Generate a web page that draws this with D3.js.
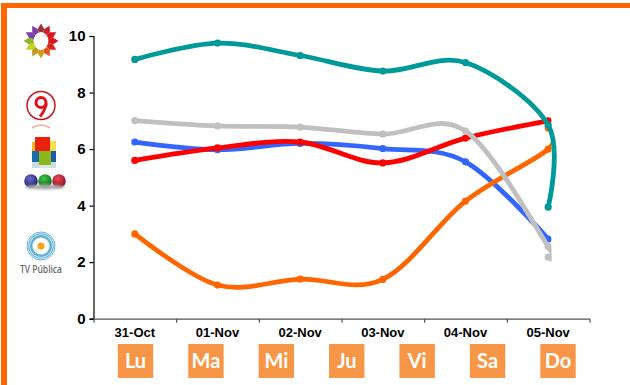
<!DOCTYPE html>
<html>
<head>
<meta charset="utf-8">
<style>
  html, body { margin: 0; padding: 0; background: #fff; }
  svg { display: block; }
  text { font-family: "Liberation Sans", Arial, sans-serif; }
</style>
</head>
<body>
<svg id="chart" width="630" height="385"></svg>
<script src="https://cdnjs.cloudflare.com/ajax/libs/d3/7.8.5/d3.min.js"></script>
<script>
// Daily audience by channel, one reading per day; some series close with a second reading on the last date.
const categories = ["31-Oct", "01-Nov", "02-Nov", "03-Nov", "04-Nov", "05-Nov"];
const readingDays = [...categories, "05-Nov"];
const days = ["Lu", "Ma", "Mi", "Ju", "Vi", "Sa", "Do"];
const yTicks = [0, 2, 4, 6, 8, 10];

const blueValues = [6.25, 5.98, 6.2, 6.02, 5.55, 2.82];
const orangeValues = [3.0, 1.19, 1.4, 1.39, 4.16, 6.0, 6.75];
const redValues = [5.6, 6.04, 6.25, 5.51, 6.39, 7.0];
const greyValues = [7.01, 6.82, 6.78, 6.53, 6.64, 2.55, 2.18];
const tealValues = [9.17, 9.75, 9.31, 8.76, 9.06, 6.85, 3.95];

const seriesList = [
  { values: blueValues, color: "#3366FF", clip: true },
  { values: orangeValues, color: "#FF6600", clip: true },
  { values: redValues, color: "#FF0000", clip: true },
  { values: greyValues, color: "#C0C0C0", clip: true },
  { values: tealValues, color: "#009999", clip: false }
];

const svg = d3.select("#chart");
const defs = svg.append("defs");

// Page frame: orange rules along the top and the left edge
svg.append("rect").attr("x", 1).attr("y", 3).attr("width", 629).attr("height", 5).attr("fill", "#FF6600");
svg.append("rect").attr("x", 1).attr("y", 3).attr("width", 6).attr("height", 382).attr("fill", "#FF6600");

const x = d3.scaleBand().domain(categories).range([93.5, 589.5]);
const xEdges = d3.scalePoint().domain(d3.range(categories.length + 1)).range([93.5, 589.5]);
const y = d3.scaleLinear().domain([0, 10]).range([318.7, 36]);
const cx = d => x(d) + x.bandwidth() / 2;

// Axes
const yAxis = svg.append("g").attr("transform", "translate(93.5,0)")
  .call(d3.axisLeft(y).tickValues(yTicks).tickSize(4).tickPadding(4).tickFormat(d3.format("d")));
yAxis.selectAll("path, line").attr("stroke", "#000").attr("stroke-width", 1.2);
yAxis.selectAll("text").attr("font-size", 15).attr("font-weight", "bold").attr("fill", "#000")
  .style("font-family", '"Liberation Sans", Arial, sans-serif');

const xTicks = svg.append("g").attr("transform", "translate(0,318.7)")
  .call(d3.axisBottom(xEdges).tickSizeInner(4).tickSizeOuter(0).tickFormat(""));
xTicks.selectAll("path, line").attr("stroke", "#555").attr("stroke-width", 1.2);

const xLabels = svg.append("g").attr("transform", "translate(0,318.7)")
  .call(d3.axisBottom(x).tickSize(0).tickPadding(9));
xLabels.select("path").remove();
xLabels.selectAll("text").attr("font-size", 13).attr("font-weight", "bold").attr("fill", "#000")
  .style("font-family", '"Liberation Sans", Arial, sans-serif');

// Smoothed series with their markers; all but the teal one stop at the last date's edge
defs.append("clipPath").attr("id", "lastDate").append("rect")
  .attr("x", 90).attr("y", 20).attr("width", 461.5).attr("height", 310);

const line = d3.line()
  .x((d, i) => cx(readingDays[i]))
  .y(d => y(d))
  .curve(d3.curveCardinal.tension(0));

seriesList.forEach(s => {
  const g = svg.append("g");
  if (s.clip) g.attr("clip-path", "url(#lastDate)");
  g.append("path").attr("d", line(s.values)).attr("fill", "none")
    .attr("stroke", s.color).attr("stroke-width", 4.8).attr("stroke-linecap", "round");
  g.selectAll("circle").data(s.values).join("circle")
    .attr("cx", (d, i) => cx(readingDays[i]))
    .attr("cy", d => y(d))
    .attr("r", 3.6)
    .attr("fill", s.color);
});

// Weekday tags under the date labels
const dayX = d3.scalePoint().domain(days).range([135.5, 558]);
const tags = svg.append("g").selectAll("g").data(days).join("g")
  .attr("transform", d => `translate(${dayX(d)},361)`);
tags.append("rect").attr("x", -17.7).attr("y", -17).attr("width", 35.4).attr("height", 34).attr("fill", "#F79646");
tags.append("text").text(d => d).attr("text-anchor", "middle").attr("dy", 7)
  .attr("font-size", 20).attr("font-weight", "bold").attr("fill", "#fff")
  .style("font-family", 'Lato, sans-serif');

// Channel logos down the left margin
defs.append("filter").attr("id", "soft").append("feGaussianBlur").attr("stdDeviation", 0.45);
defs.append("filter").attr("id", "softer").append("feGaussianBlur").attr("stdDeviation", 1.2);
const ballColors = [["#6a6ad0", "#1c1c60"], ["#45c44a", "#06661a"], ["#e84a58", "#8a0a20"]];
ballColors.forEach((c, i) => {
  const g = defs.append("radialGradient").attr("id", `ball${i}`).attr("cx", "42%").attr("cy", "32%").attr("r", "70%");
  g.append("stop").attr("offset", "0%").attr("stop-color", c[0]);
  g.append("stop").attr("offset", "100%").attr("stop-color", c[1]);
});

const logos = svg.append("g").attr("filter", "url(#soft)");

// Sun emblem: a ring of coloured wedges around a white centre
const sun = logos.append("g").attr("transform", "translate(41,41)");
const sunColors = ["#7B3FA8", "#A0303C", "#C8202C", "#D8141C", "#D8141C", "#D8281C", "#E8541C", "#D89A1C", "#B8A020", "#C8D020", "#8CB82C", "#7B3FA8"];
sunColors.forEach((c, i) => {
  const a0 = (i - 1.5) * Math.PI / 6;
  const a1 = a0 + Math.PI / 6;
  const mid = (a0 + a1) / 2;
  const pts = [
    [a0, 6], [a0, 12.5], [mid, 17.5], [a1, 12.5], [a1, 6]
  ].map(([a, r]) => [r * Math.sin(a), -r * Math.cos(a)]);
  sun.append("path").attr("d", d3.line()(pts) + "Z").attr("fill", c);
});
sun.append("ellipse").attr("rx", 7.4).attr("ry", 9).attr("fill", "#fff");

// Channel 9 emblem
const nine = logos.append("g").attr("transform", "translate(41,105.5)");
nine.append("circle").attr("r", 14).attr("fill", "none").attr("stroke", "#C8141C").attr("stroke-width", 1.5);
nine.append("circle").attr("cy", -3).attr("r", 5).attr("fill", "none").attr("stroke", "#E4101C").attr("stroke-width", 3);
nine.append("path").attr("d", "M5.4,-2 Q4,5 -1,11").attr("fill", "none").attr("stroke", "#E4101C").attr("stroke-width", 2.8);
logos.append("path").attr("d", "M32,128 Q41,122 50,128").attr("fill", "none").attr("stroke", "#E8B0A8").attr("stroke-width", 1.6);

// Block emblem
const cube = logos.append("g");
[
  [32, 142, 4, 10, "#E8B820"], [35, 137, 15, 14, "#E8200C"], [50, 141, 6, 10, "#F4E04C"],
  [32, 151, 7, 11, "#1C6CA8"], [39, 151, 12, 14, "#8CB81C"], [51, 151, 5, 11, "#1C5CA8"],
  [32, 162, 7, 6, "#C8DCE4"], [51, 162, 5, 6, "#C8DCE4"], [39, 165, 12, 3, "#D8E6EA"]
].forEach(([rx, ry, w, h, c]) => {
  cube.append("rect").attr("x", rx).attr("y", ry).attr("width", w).attr("height", h).attr("fill", c);
});

// Three balls with a soft shadow beneath
svg.append("ellipse").attr("cx", 45).attr("cy", 187).attr("rx", 20).attr("ry", 2.6)
  .attr("fill", "#a8a8a8").attr("filter", "url(#softer)");
const ballX = d3.scalePoint().domain([0, 1, 2]).range([31, 59]);
logos.append("g").selectAll("circle").data([0, 1, 2]).join("circle")
  .attr("cx", d => ballX(d)).attr("cy", 181).attr("r", 6.8).attr("fill", d => `url(#ball${d})`);

// Public television emblem
const tvp = logos.append("g").attr("transform", "translate(41,246)");
[[14, 1], [12.2, 1.2], [9.8, 2.4]].forEach(([r, w]) => {
  tvp.append("circle").attr("r", r).attr("fill", "none").attr("stroke", "#62B0D8").attr("stroke-width", w);
});
tvp.append("circle").attr("r", 3.5).attr("fill", "#F7A11C");
svg.append("text").attr("x", 41).attr("y", 273).attr("text-anchor", "middle")
  .attr("font-size", 10.2).attr("font-weight", 600).attr("fill", "#6b6b6b")
  .attr("textLength", 42).attr("lengthAdjust", "spacingAndGlyphs")
  .style("font-family", '"Open Sans", sans-serif').text("TV Pública");
</script>
</body>
</html>
